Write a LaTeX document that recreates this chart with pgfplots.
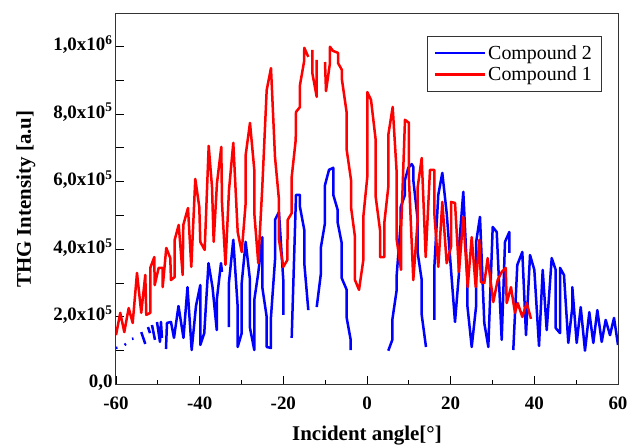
\documentclass[border=0pt]{standalone}
\usepackage{fontspec}
\setmainfont{Liberation Serif}
\usepackage{pgfplots}
\pgfplotsset{compat=1.18}
\begin{document}
\begin{tikzpicture}
\begin{axis}[
    name=ax,
    scale only axis,
    width=502bp, height=370.5bp,
    xmin=-60, xmax=60, ymin=0, ymax=10.96,
    xtick={-60,-40,...,60},
    xticklabels={-60,-40,-20,0,20,40,60},
    minor x tick num=1,
    ytick={0,1,...,10},
    yticklabels={{0,0},{},{2,0x10\textsuperscript{5}},{},{4,0x10\textsuperscript{5}},{},
                 {6,0x10\textsuperscript{5}},{},{8,0x10\textsuperscript{5}},{},{1,0x10\textsuperscript{6}}},
    tick pos=left, tick align=inside,
    major tick length=8bp, minor tick length=4bp,
    tick style={black, line width=0.9bp},
    axis line style={black!80, line width=1bp},
    tick label style={font=\fontsize{19}{19}\selectfont\bfseries},
    xticklabel shift=9bp,
    yticklabel style={yshift=2bp},
    xlabel={Incident angle[°]},
    ylabel={THG Intensity [a.u]},
    xlabel shift=9bp,
    ylabel shift=11bp,
    label style={font=\fontsize{21}{21}\selectfont\bfseries},
    unbounded coords=jump,
    legend cell align=left,
    legend style={at={(0.966,0.94)}, anchor=north east, draw=black!80,
                  fill=white, font=\fontsize{20}{22}\selectfont,
                  inner xsep=7bp, inner ysep=7bp, row sep=2bp},
    legend image code/.code={\draw[#1] (0bp,0bp) -- (50bp,0bp);},
]
% Compound 2
\addplot[blue, line width=2.5bp, line join=round, mark=none] coordinates {
(-60.0,1.08) (-59.65,1.09)
(-59,nan)
(-57.97,1.17) (-57.61,1.20)
(-57,nan)
(-56.18,1.35) (-55.82,1.36)
(-55,nan)
(-53.96,1.55) (-53.0,1.20)
(-52.6,nan)
(-52.35,1.70) (-51.88,1.52)
(-51.6,nan)
(-51.40,1.76) (-50.68,1.32)
(-50.4,nan)
(-50.20,1.85) (-49.49,1.26) (-49.25,1.85) (-49.01,1.38)
(-48.5,nan)
(-48.05,1.05) (-47.81,1.82) (-46.86,1.85) (-46.14,1.38) (-45.06,2.32) (-43.87,1.38)
(-42.91,2.88) (-41.91,1.02) (-40.88,2.32) (-39.85,2.94) (-39.85,1.17) (-38.90,1.52)
(-37.89,3.59) (-36.93,2.88) (-35.91,1.61) (-35.91,2.50) (-34.90,3.59) (-34.66,3.33)
(-34,nan)
(-32.99,1.70) (-32.99,3.03) (-31.96,4.28) (-30.91,2.29) (-30.91,1.11) (-29.95,1.52)
(-29.95,3.00) (-29.0,4.22) (-27.97,3.09) (-27.97,1.67) (-26.94,1.02) (-26.94,2.50)
(-25.99,3.30) (-25.03,4.36) (-25.03,2.88) (-23.98,2.00) (-23.98,1.11) (-22.95,1.08)
(-22.95,2.00) (-21.99,3.68) (-21.99,4.87) (-21.04,5.10) (-20.01,3.09) (-20.01,2.06)
(-19,nan)
(-18.0,1.38) (-16.97,5.61) (-16.02,5.61) (-16.02,5.25) (-14.99,4.57) (-14.99,3.59) (-14.03,2.20)
(-13,nan)
(-12.02,2.29) (-11.0,3.30) (-11.0,4.07) (-10.04,4.78) (-10.04,5.90) (-9.08,6.35)
(-8.06,6.41) (-8.06,5.61) (-7.00,5.16) (-7.00,4.78) (-6.05,4.19) (-6.05,3.15)
(-4.85,2.80) (-4.85,1.97) (-3.90,1.32) (-3.90,1.02)
(0,nan)
(5.09,1.00) (6.05,1.32) (6.05,1.91) (7.10,2.80) (7.10,3.24) (8.06,4.78) (8.06,5.25)
(9.08,5.61) (9.08,6.05) (9.87,6.41) (10.69,6.52) (11.07,6.44) (11.07,6.05) (12.12,4.87)
(12.12,3.89) (13.08,3.09) (13.08,2.06) (14.10,1.11)
(15,nan)
(16.09,1.91) (16.09,3.45) (17.04,5.61) (18.0,6.26) (19.05,5.07) (21.04,1.85) (21.99,3.30)
(21.99,4.07) (23.02,5.70) (23.98,3.18) (23.98,2.35) (25.03,1.11) (26.06,2.29) (26.06,4.19)
(27.01,4.96) (28.04,1.82) (29.0,1.11) (30.05,4.66) (31.01,4.51) (32.20,1.32) (32.99,4.22)
(34.02,4.51) (34.02,3.89)
(34.5,nan)
(34.97,1.02) (35.93,3.54) (37.13,3.92) (38.01,1.46) (38.97,3.83) (40.0,3.39) (41.12,1.14)
(42.0,3.39) (42.96,1.61) (44.15,3.74) (45.11,3.39) (45.11,1.67) (46.14,1.52) (46.14,3.45)
(47.09,3.24) (48.12,1.23) (49.08,2.29) (49.08,2.88) (50.13,1.23) (51.09,2.29) (52.11,1.00)
(53.14,2.14) (54.10,1.23) (55.06,2.20) (56.11,1.26) (57.06,1.91) (58.09,1.46) (59.05,1.97)
(60.0,1.17)
};
\addlegendentry{Compound 2}
% Compound 1
\addplot[red, line width=2.5bp, line join=round, mark=none] coordinates {
(-60.0,1.46) (-58.98,2.12) (-58.02,1.55) (-56.97,2.26) (-56.01,1.82) (-54.98,3.30)
(-53.96,2.12) (-53.0,3.24) (-52.76,2.06) (-51.80,2.12) (-51.80,3.45) (-50.85,3.77)
(-50.75,2.94) (-49.80,3.45) (-48.84,3.45) (-48.84,2.88) (-47.98,4.04) (-47.02,3.74)
(-46.86,3.09) (-45.97,3.18) (-45.97,4.28) (-45.01,4.72) (-44.06,3.24) (-43.91,4.72)
(-42.79,5.22) (-42.0,3.48) (-41.05,6.08) (-40.09,5.25) (-39.85,4.22) (-38.80,3.98)
(-37.84,7.06) (-37.05,5.84) (-36.65,4.22) (-35.86,5.96) (-34.83,7.03) (-34.66,5.37)
(-33.83,3.54) (-32.99,5.75) (-31.96,7.15) (-30.91,4.51) (-29.95,3.92) (-29.0,5.37)
(-29.0,6.79) (-27.97,7.74) (-26.94,6.35) (-26.94,5.07) (-25.99,3.59) (-25.03,5.84)
(-23.98,8.71) (-22.95,9.36) (-21.99,6.73) (-21.04,5.46) (-21.04,4.28) (-20.01,3.48)
(-19.05,3.68) (-18.96,4.87) (-18.0,5.07) (-18.0,6.14) (-17.04,7.23) (-16.97,8.06)
(-16.02,8.21) (-16.02,8.86) (-15.06,9.54) (-14.99,9.96) (-14.03,9.69)
(-13.5,nan)
(-13.08,9.90) (-13.08,9.22) (-12.02,8.51) (-12.02,9.60)
(-11,nan)
(-10.04,9.54) (-9.80,8.68) (-8.85,9.51) (-8.85,9.99) (-8.13,9.87) (-6.93,9.81)
(-6.93,9.51) (-5.98,9.30) (-5.98,9.01) (-4.85,8.03) (-4.85,6.94) (-3.82,6.05)
(-3.82,5.25) (-2.87,4.36) (-2.87,3.09) (-1.91,2.80) (-0.88,3.68) (-0.88,4.96)
(0.07,6.14) (0.07,8.65) (0.96,8.42) (2.08,7.23) (2.08,5.55) (3.11,4.57) (3.11,3.77)
(4.14,3.77) (4.14,4.78) (5.09,5.84) (5.09,7.38) (6.14,8.21) (7.10,6.26) (7.10,4.28)
(8.13,3.39) (8.13,4.48) (9.08,7.83) (10.04,7.74) (10.04,6.05) (11.07,3.09) (12.12,4.87)
(12.12,5.84) (13.08,6.70) (14.03,3.77) (15.06,6.35) (16.09,6.35) (16.09,5.07)
(17.04,3.48) (18.0,5.40) (19.05,3.59) (20.08,4.07) (20.08,5.40) (21.04,5.37)
(21.99,3.33) (23.02,4.96) (24.07,2.88) (25.03,4.36) (25.99,2.88) (26.85,4.28)
(27.25,3.03) (28.04,3.00) (28.85,3.74) (30.19,2.44) (31.24,3.09) (32.20,3.33)
(33.16,3.45) (33.40,2.41) (34.42,2.88) (35.38,2.12) (36.03,2.41) (37.13,2.00)
(38.18,2.41) (39.21,1.94)
};
\addlegendentry{Compound 1}
\end{axis}
\pgfresetboundingbox
\path[use as bounding box] ([xshift=-116bp,yshift=-61.5bp]ax.south west)
    rectangle ([xshift=12bp,yshift=14bp]ax.north east);
\end{tikzpicture}
\end{document}
